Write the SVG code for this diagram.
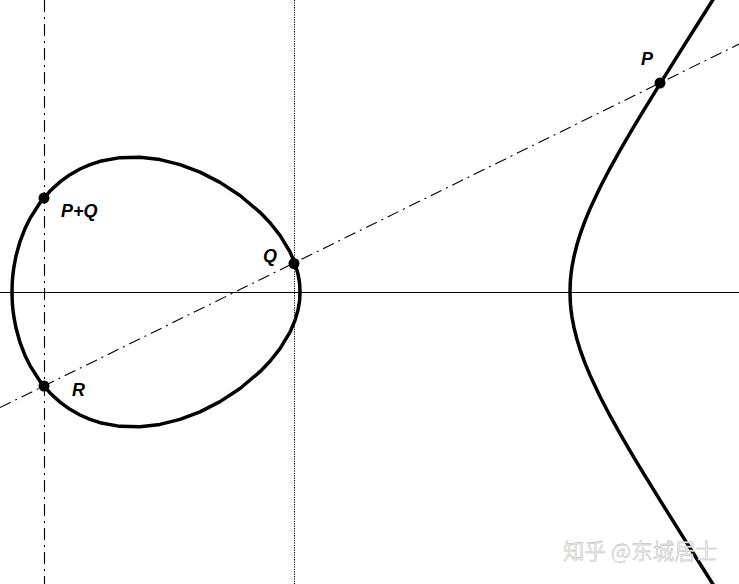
<svg xmlns="http://www.w3.org/2000/svg" width="739" height="584" viewBox="0 0 739 584">
<style>
.curve{fill:none;stroke:#000;stroke-width:3.5;stroke-linejoin:round;stroke-linecap:round}
.axis{stroke:#000;stroke-width:1;fill:none}
.dashdot{stroke:#000;stroke-width:1.1;fill:none;stroke-dasharray:12 5 2 5}
.dotted{stroke:#000;stroke-width:1;fill:none;stroke-dasharray:1.2 1.2}
.pt{fill:#000}
.lbl{font-family:"Liberation Sans",Arial,sans-serif;font-weight:bold;font-style:italic;font-size:18px;fill:#000}
.wm{font-family:"Noto Sans CJK SC",sans-serif;font-size:21.5px;fill:#ececec;stroke:#b5b5b5;stroke-width:0.35}
</style>
<rect width="739" height="584" fill="#fff"/>
<g id="connectors">
<line class="axis" x1="0" y1="292.5" x2="739" y2="292.5"/>
<line class="dotted" x1="294.5" y1="0" x2="294.5" y2="584"/>
<line class="dashdot" x1="44.5" y1="0" x2="44.5" y2="584"/>
<line class="dashdot" x1="0" y1="407.6" x2="739" y2="44.1"/>
</g>
<g id="egg">
<polyline class="curve" points="12,292 12.25,282.9 12.5,279.14 13,273.84 14,266.38 16,255.96 20,241.57 25,228.59 30,218.4 40,202.76 50,191.02 60,181.88 70,174.67 80,169 90,164.61 100,161.34 120,157.63 140,157.18 160,159.58 180,164.61 200,172.18 220,182.36 240,195.47 260,212.33 270,222.77 280,235.36 290,251.92 295,263.66 298,274.08 299,279.33 299.5,283.04 299.75,285.67 300,292 299.75,298.33 299.5,300.96 299,304.67 298,309.92 295,320.34 290,332.08 280,348.64 270,361.23 260,371.67 240,388.53 220,401.64 200,411.82 180,419.39 160,424.42 140,426.82 120,426.37 100,422.66 90,419.39 80,415 70,409.33 60,402.12 50,392.98 40,381.24 30,365.6 25,355.41 20,342.43 16,328.04 14,317.62 13,310.16 12.5,304.86 12.25,301.1 12,292"/>
</g>
<g id="branch">
<polyline class="curve" points="720,-11.42 700,20.26 680,51.93 660,83.83 640,116.36 630,133.08 620,150.3 610,168.29 600,187.49 590,208.82 585,220.9 580,234.71 577,244.45 574,256.34 572,266.92 571,274.32 570.5,279.51 570.25,283.18 570,292 570.25,300.82 570.5,304.49 571,309.68 572,317.08 574,327.66 577,339.55 580,349.29 585,363.1 590,375.18 600,396.51 610,415.71 620,433.7 630,450.92 640,467.64 660,500.17 680,532.07 700,563.74 720,595.42"/>
</g>
<g id="P">
<circle class="pt" cx="660" cy="83" r="5.5"/>
<text class="lbl" x="641" y="65">P</text>
</g>
<g id="Q">
<circle class="pt" cx="294" cy="263.5" r="5.5"/>
<text class="lbl" x="263" y="262">Q</text>
</g>
<g id="PQ">
<circle class="pt" cx="44" cy="198" r="5.5"/>
<text class="lbl" x="61" y="217">P+Q</text>
</g>
<g id="R">
<circle class="pt" cx="44" cy="386" r="5.5"/>
<text class="lbl" x="72" y="396">R</text>
</g>
<text class="wm" x="563" y="559">知乎 @东城居士</text>
</svg>
